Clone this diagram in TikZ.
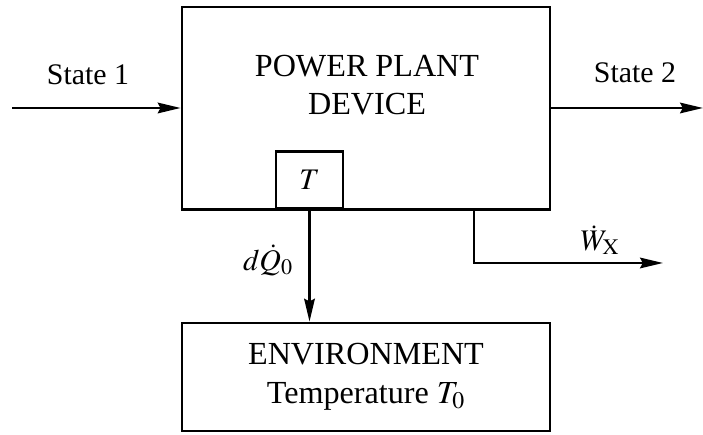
\documentclass[tikz,border=0pt]{standalone}
\usepackage{amssymb,amsmath}
\usepackage{mathptmx}
\usepackage{fontspec}
\setmainfont{Liberation Serif}
\usepackage{tikz}
\usetikzlibrary{arrows.meta, calc, positioning}

\tikzset{
    block/.style={draw, line width=1.5pt, inner sep=0pt},
    flow/.style={line width=1.5pt, -{Stealth[length=13pt,width=6pt,inset=1.5pt]}},
    txt/.style={font=\fontsize{17}{20.5}\selectfont, align=center},
    bigtxt/.style={font=\fontsize{18.3}{22}\selectfont, align=center}
}

\begin{document}
\begin{tikzpicture}[>=stealth]
    \useasboundingbox (0,0) rectangle (14.06,8.7);

    % Device and environment boxes
    \node[block, minimum width=7.36cm, minimum height=4.05cm] (plant) at (7.32,6.535) {};
    \node[bigtxt] (plantname) at (7.34,7.0) {POWER PLANT\\DEVICE};
    \node[block, anchor=south, minimum width=1.34cm, minimum height=1.13cm] (tbox) at (6.19,4.51) {};
    \node[txt] (tlabel) at (tbox.center) {$T$};
    \node[block, bigtxt, minimum width=7.36cm, minimum height=2.16cm] (env) at (7.32,1.16) {ENVIRONMENT\\Temperature $T_0$};

    % States in and out
    \coordinate (in) at (0.24,6.54);
    \coordinate (out) at (14.06,6.54);
    \draw[flow] (in) -- (in -| plant.west);
    \draw[flow] (out -| plant.east) -- (out);
    \node[txt] (s1) at (1.76,7.2) {State 1};
    \node[txt] (s2) at (12.7,7.24) {State 2};

    % Heat to the environment
    \draw[flow] (tbox.south) -- (tbox.south |- env.north);
    \node[txt] (dq) at (5.36,3.5) {$d\dot{Q}_0$};

    % Work out
    \coordinate (wstart) at (9.48,4.51);
    \coordinate (wend) at (13.26,3.44);
    \draw[flow] (wstart) -- (wstart |- wend) -- (wend);
    \node[txt] (wx) at (12.0,3.9) {$\dot{W}_{\mathrm{X}}$};
\end{tikzpicture}
\end{document}
